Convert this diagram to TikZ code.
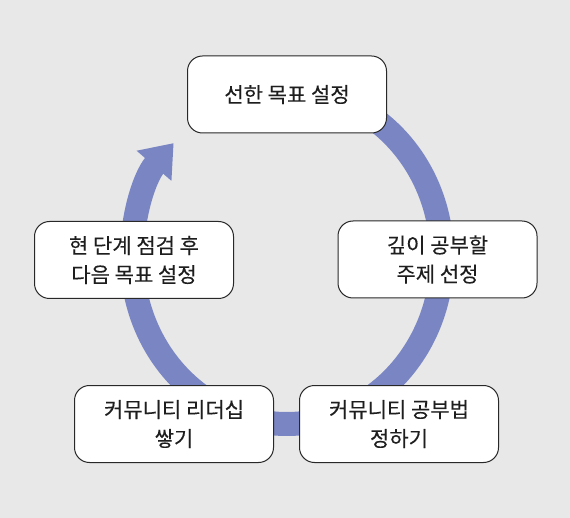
\documentclass[tikz,border=0pt]{standalone}
\usepackage{fontspec}
\setmainfont{Noto Sans CJK KR}[FakeBold=0.15]
\usetikzlibrary{arrows.meta,calc}
\definecolor{bg}{RGB}{232,232,232}
\definecolor{cyc}{RGB}{122,133,196}
\definecolor{txt}{RGB}{30,30,30}
\definecolor{edge}{RGB}{40,40,40}
\tikzset{
  stagebox/.style={draw=edge, line width=1pt, fill=white, rounded corners=15pt,
    minimum width=199pt, minimum height=77pt, align=center, text=txt,
    font=\fontsize{21pt}{29pt}\selectfont, inner sep=0pt},
  cycarrow/.style={draw=cyc, line width=24pt,
    -{Triangle[width=44pt,length=30pt]}}
}
\begin{document}
\begin{tikzpicture}[x=1pt,y=1pt]
\fill[bg] (0,0) rectangle (570,-518);
\useasboundingbox (0,0) rectangle (570,-518);
\coordinate (c) at (287,-257);
\coordinate (arcstart) at ($(c)+(95:155pt and 167pt)$);
\draw[cycarrow] (arcstart) arc[start angle=95, end angle=-223, x radius=155pt, y radius=167pt];
\node[stagebox] (goal) at (287,-94.5) {선한 목표 설정};
\node[stagebox] (topic) at (437.5,-259.5) {깊이 공부할\\주제 선정};
\node[stagebox] (method) at (399,-424) {커뮤니티 공부법\\정하기};
\node[stagebox] (leader) at (174,-424) {커뮤니티 리더십\\쌓기};
\node[stagebox] (review) at (134,-260) {현 단계 점검 후\\다음 목표 설정};
\end{tikzpicture}
\end{document}
